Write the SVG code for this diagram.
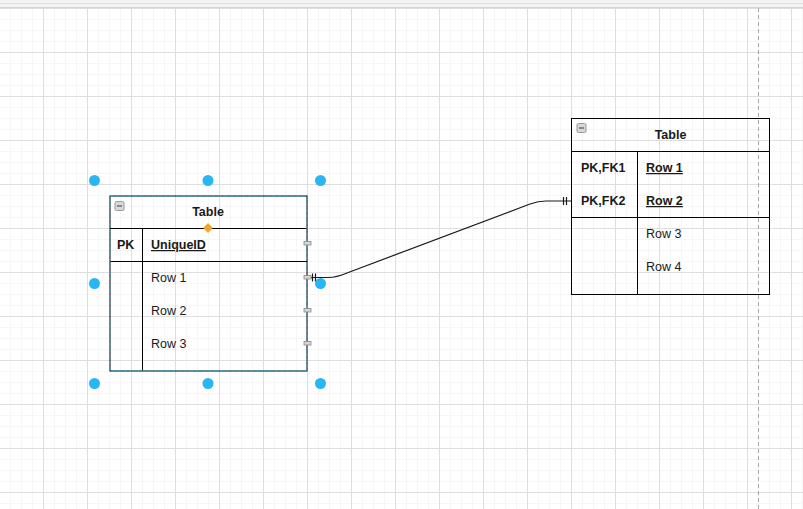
<svg xmlns="http://www.w3.org/2000/svg" width="803" height="509" viewBox="0 0 803 509">
  <style>
    .t { font-family: "Liberation Sans", Arial, sans-serif; font-size: 12.5px; fill: #1a1a1a; }
    .b { font-weight: bold; }
    .u { text-decoration: underline; }
    .ln { stroke: #000; stroke-width: 1; fill: none; }
    .handle { fill: #29b6f2; }
    .cp { fill: #d6d6d6; stroke: #8a8a8a; stroke-width: 0.8; }
    .edge { stroke: #1a1a1a; stroke-width: 1.2; fill: none; }
  </style>
  <defs>
    <pattern id="minor" patternUnits="userSpaceOnUse" x="43" y="8" width="11" height="11">
      <path d="M0.5 0V11M0 0.5H11" stroke="#f6f6f6" stroke-width="1" fill="none"/>
    </pattern>
    <pattern id="major" patternUnits="userSpaceOnUse" x="43" y="8" width="44" height="44">
      <path d="M0.5 0V44M0 0.5H44" stroke="#dedede" stroke-width="1" fill="none"/>
    </pattern>
    <g id="minus">
      <rect x="-4.5" y="-4.5" width="9" height="9" rx="1.5" fill="#d8d8d8" stroke="#9a9a9a" stroke-width="1"/>
      <path d="M-2.5 0H2.5" stroke="#555" stroke-width="1.2"/>
    </g>
  </defs>

  <!-- background -->
  <rect x="0" y="0" width="803" height="509" fill="#ffffff"/>
  <rect x="0" y="8" width="803" height="501" fill="url(#minor)"/>
  <rect x="0" y="8" width="803" height="501" fill="url(#major)"/>
  <rect x="0" y="0" width="803" height="8" fill="#f3f3f3"/>
  <line x1="0" y1="3.5" x2="803" y2="3.5" stroke="#e0e0e0"/>
  <line x1="0" y1="7.5" x2="803" y2="7.5" stroke="#d4d4d4"/>
  <line x1="758.5" y1="8" x2="758.5" y2="509" stroke="#a8a8a8" stroke-dasharray="4 3"/>

  <!-- connectors -->
  <g id="connectors">
    <path class="edge" d="M310 277.5 H328 C336 277.5 340 276 347 273 L530 204 C537 201.5 541 201 546 201 H571"/>
    <path class="edge" d="M312.5 273.5V281.5M315.5 273.5V281.5"/>
    <path class="edge" d="M563.5 197V205M566.5 197V205"/>
  </g>

  <!-- left table (selected) -->
  <g id="table1">
    <rect class="ln" x="110" y="196" width="197" height="175"/>
    <line class="ln" x1="110" y1="228.5" x2="307" y2="228.5"/>
    <line class="ln" x1="110" y1="261.5" x2="307" y2="261.5"/>
    <line class="ln" x1="142.5" y1="228.5" x2="142.5" y2="371"/>
    <rect x="110" y="196" width="197" height="175" fill="none" stroke="#22aee0" stroke-width="1" stroke-dasharray="3 3"/>
    <use href="#minus" x="119.5" y="206"/>
    <text class="t b" x="208" y="216" text-anchor="middle">Table</text>
    <text class="t b" x="117" y="249">PK</text>
    <text class="t b u" x="151" y="249">UniqueID</text>
    <text class="t" x="151" y="282">Row 1</text>
    <text class="t" x="151" y="315">Row 2</text>
    <text class="t" x="151" y="348">Row 3</text>
    <!-- connection points -->
    <rect class="cp" x="304" y="241.5" width="7" height="3.5"/>
    <rect class="cp" x="304" y="275.5" width="7" height="3.5"/>
    <rect class="cp" x="304" y="308.5" width="7" height="3.5"/>
    <rect class="cp" x="304" y="341.5" width="7" height="3.5"/>
    <!-- handles -->
    <circle class="handle" cx="94.5" cy="180.5" r="5.5"/>
    <circle class="handle" cx="208" cy="180.5" r="5.5"/>
    <circle class="handle" cx="320.5" cy="180.5" r="5.5"/>
    <circle class="handle" cx="94.5" cy="283.5" r="5.5"/>
    <circle class="handle" cx="320.5" cy="283.5" r="5.5"/>
    <circle class="handle" cx="94.5" cy="383.5" r="5.5"/>
    <circle class="handle" cx="208" cy="383.5" r="5.5"/>
    <circle class="handle" cx="320.5" cy="383.5" r="5.5"/>
    <path d="M208 223.5L212.5 228L208 232.5L203.5 228Z" fill="#f5a623" stroke="#e8900c" stroke-width="0.6"/>
  </g>

  <!-- right table -->
  <g id="table2">
    <rect class="ln" x="571.5" y="118.5" width="198" height="176"/>
    <line class="ln" x1="571.5" y1="151.5" x2="769.5" y2="151.5"/>
    <line class="ln" x1="571.5" y1="217.5" x2="769.5" y2="217.5"/>
    <line class="ln" x1="637.5" y1="151.5" x2="637.5" y2="294.5"/>
    <use href="#minus" x="581.5" y="128"/>
    <text class="t b" x="670.5" y="139" text-anchor="middle">Table</text>
    <text class="t b" x="581" y="172">PK,FK1</text>
    <text class="t b u" x="646" y="172">Row 1</text>
    <text class="t b" x="581" y="205">PK,FK2</text>
    <text class="t b u" x="646" y="205">Row 2</text>
    <text class="t" x="646" y="238">Row 3</text>
    <text class="t" x="646" y="271">Row 4</text>
  </g>
</svg>
